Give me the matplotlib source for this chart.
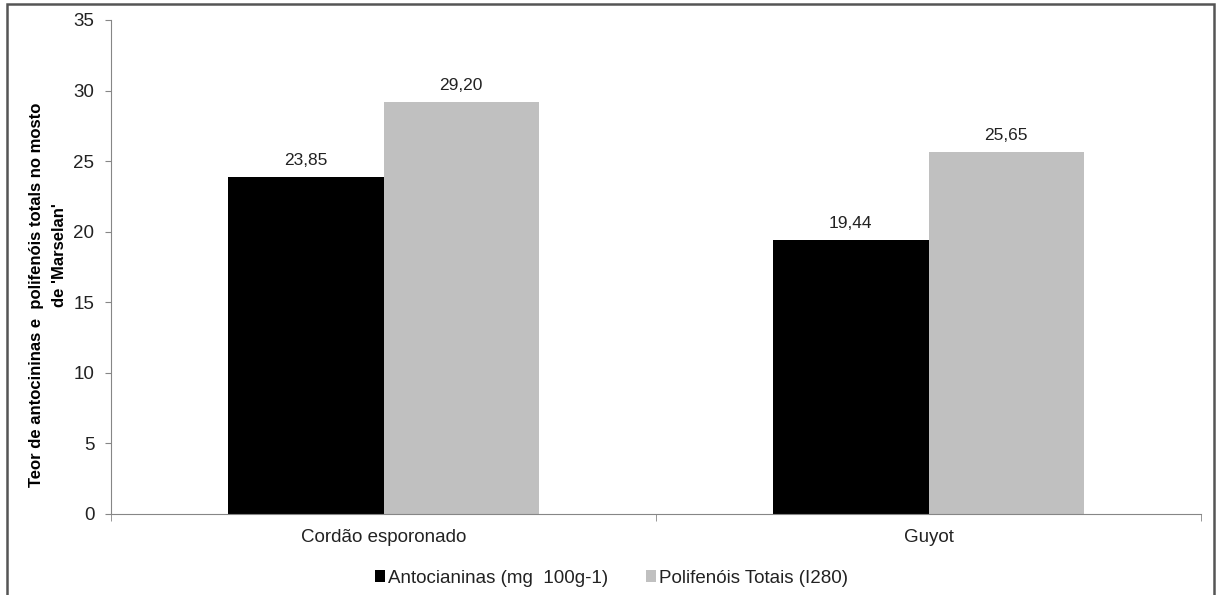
import matplotlib
matplotlib.use('Agg')
import matplotlib.pyplot as plt
from matplotlib.patches import Rectangle
import numpy as np

plt.rcParams['font.family'] = ['Liberation Sans', 'DejaVu Sans']

categories = ['Cordão esporonado', 'Guyot']
antocianinas = [23.85, 19.44]
polifenois = [29.20, 25.65]
series_names = ['Antocianinas (mg  100g-1)', 'Polifenóis Totais (I280)']
ylabel_lines = ["Teor de antocininas e  polifenóis totals no mosto", "de 'Marselan'"]

fig = plt.figure(figsize=(12.16, 5.95), dpi=100)
ax = fig.add_axes([111/1216, 1-514/595, (1201-111)/1216, (514-20)/595])

x = np.arange(len(categories))
w = 0.285
b1 = ax.bar(x - w/2, antocianinas, w, color='black', label=series_names[0])
b2 = ax.bar(x + w/2, polifenois, w, color='#C0C0C0', label=series_names[1])

for bars in (b1, b2):
    for r in bars:
        ax.annotate(f'{r.get_height():.2f}'.replace('.', ','),
                    (r.get_x() + r.get_width()/2, r.get_height()),
                    xytext=(0, 6.5), textcoords='offset points',
                    ha='center', va='bottom', fontsize=12.5, color='#222222')

ax.set_xlim(-0.5, 1.5)
ax.set_ylim(0, 35)
ax.set_yticks(range(0, 36, 5))
ax.set_xticks(x)
ax.set_xticklabels(categories, fontsize=13.5, color='#222222')
ax.set_xticks([-0.5, 0.5, 1.5], minor=True)
ax.tick_params(axis='x', which='major', length=0, pad=11)
ax.tick_params(axis='x', which='minor', length=5, color='#868686', direction='out')
ax.tick_params(axis='y', length=4, color='#868686', labelsize=13.5, pad=8,
               labelcolor='#222222')

for s in ['top', 'right']:
    ax.spines[s].set_visible(False)
for s in ['left', 'bottom']:
    ax.spines[s].set_color('#868686')

# y title: two lines, centred separately like the original
fig.text(37/1216, 1-295/595, ylabel_lines[0], rotation=90, ha='center', va='center',
         fontsize=12, fontweight='bold')
fig.text(60/1216, 1-255/595, ylabel_lines[1], rotation=90, ha='center', va='center',
         fontsize=12, fontweight='bold')

ax.legend(loc='center', bbox_to_anchor=(0.459, -0.13), ncol=2, frameon=False,
          fontsize=13.5, handlelength=0.55, handleheight=0.55, handletextpad=0.15,
          columnspacing=2.0, labelcolor='#222222')

fig.patches.append(Rectangle((7/1216, -0.02), (1214-7)/1216, 1-4/595+0.02,
                             transform=fig.transFigure, fill=False,
                             edgecolor='#555555', linewidth=1.8))

fig.savefig('out.png', dpi=100)
